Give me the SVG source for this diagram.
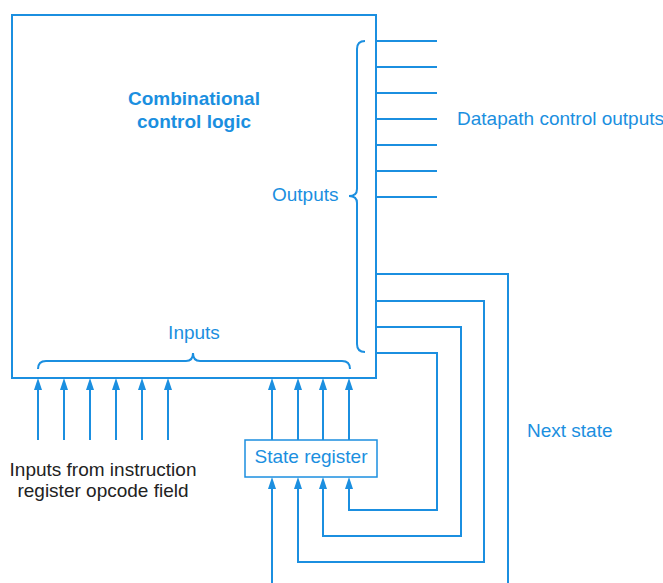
<svg xmlns="http://www.w3.org/2000/svg" width="663" height="583" viewBox="0 0 663 583">
<style>
.ln{fill:none;stroke:#1b8fe0;stroke-width:2}
.ar{fill:none;stroke:#1b8fe0;stroke-width:2;marker-end:url(#ah)}
.bt{fill:#1b8fe0;font-family:"Liberation Sans",Arial,sans-serif;font-size:19px}
.kt{fill:#222;font-family:"Liberation Sans",Arial,sans-serif;font-size:19px}
</style>
<defs>
<marker id="ah" viewBox="0 0 12 8" refX="6" refY="4" markerWidth="12" markerHeight="8" markerUnits="userSpaceOnUse" orient="auto">
<path d="M0,0 L12,4 L0,8 z" fill="#1b8fe0"/>
</marker>
</defs>
<rect width="663" height="583" fill="#fff"/>
<g id="control-logic">
<rect x="12" y="15" width="364" height="363" class="ln"/>
<text class="bt" x="194" y="105" text-anchor="middle" font-weight="bold">Combinational</text>
<text class="bt" x="194" y="128" text-anchor="middle" font-weight="bold">control logic</text>
<path class="ln" d="M365,41 Q357,41 357,49 L357,189 Q357,196 349,196 Q357,196 357,203 L357,344 Q357,352 365,352"/>
<text class="bt" x="272" y="201">Outputs</text>
<path class="ln" d="M38,369 Q38,361 46,361 L186,361 Q193,361 193,353 Q193,361 200,361 L342,361 Q350,361 350,369"/>
<text class="bt" x="194" y="339" text-anchor="middle">Inputs</text>
</g>
<g id="state-register">
<rect x="245" y="440" width="132" height="37" fill="none" stroke="#1b8fe0" stroke-width="1.5"/>
<text class="bt" x="311" y="463" text-anchor="middle">State register</text>
</g>
<g id="labels">
<text class="bt" x="457" y="125">Datapath control outputs</text>
<text class="bt" x="527" y="437">Next state</text>
<text class="kt" x="103" y="476" text-anchor="middle">Inputs from instruction</text>
<text class="kt" x="103" y="497" text-anchor="middle">register opcode field</text>
</g>
<g id="connectors">
<path class="ln" d="M376,41 H437 M376,67 H437 M376,93 H437 M376,119 H437 M376,145 H437 M376,171 H437 M376,197 H437"/>
<path class="ar" d="M38,440 V384"/>
<path class="ar" d="M64,440 V384"/>
<path class="ar" d="M90,440 V384"/>
<path class="ar" d="M116,440 V384"/>
<path class="ar" d="M142,440 V384"/>
<path class="ar" d="M168,440 V384"/>
<path class="ar" d="M272,440 V384"/>
<path class="ar" d="M298,440 V384"/>
<path class="ar" d="M323,440 V384"/>
<path class="ar" d="M349,440 V384"/>
<path class="ln" d="M376,274 H508 V583"/>
<path class="ar" d="M376,301 H484 V562 H298 V483"/>
<path class="ar" d="M376,327 H461 V536 H323 V483"/>
<path class="ar" d="M376,353 H437 V510 H349 V483"/>
<path class="ar" d="M272,583 V483"/>
</g>
</svg>
